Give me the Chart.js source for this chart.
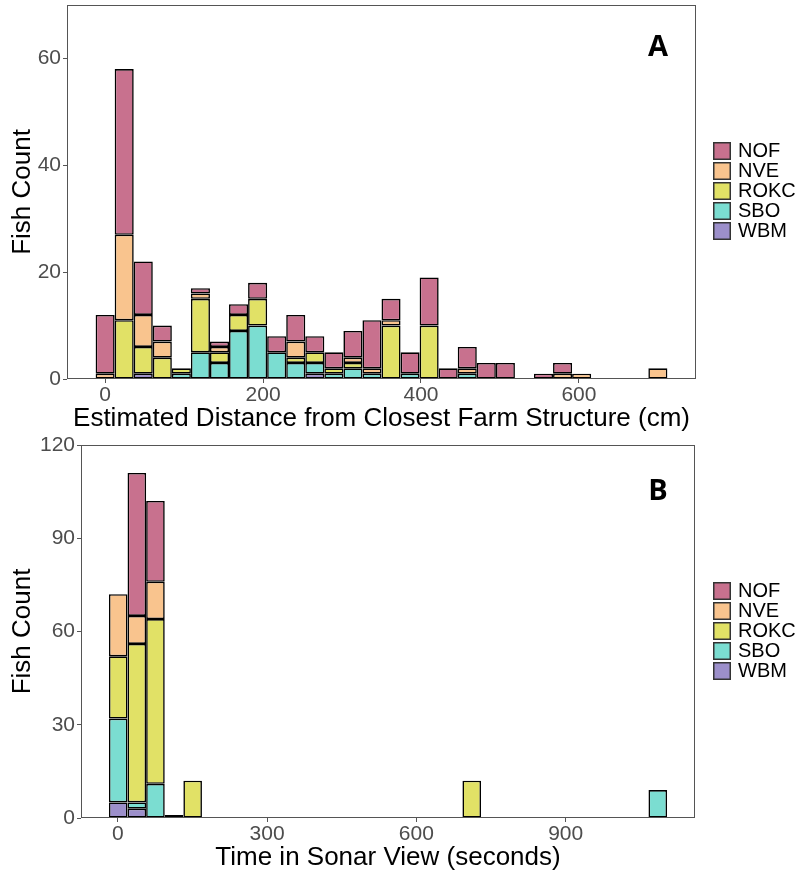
<!DOCTYPE html>
<html>
<head>
<meta charset="utf-8">
<script src="https://cdn.jsdelivr.net/npm/chart.js@4.4.1/dist/chart.umd.min.js"></script>
<style>
html,body{margin:0;padding:0;background:#ffffff;}
#wrap{position:relative;width:801px;height:873px;overflow:hidden;background:#ffffff;}
canvas{position:absolute;left:0;}
</style>
</head>
<body>
<div id="wrap">
<canvas id="chartA" width="801" height="449" style="top:0px;width:801px;height:449px;"></canvas>
<canvas id="chartB" width="801" height="437" style="top:436px;width:801px;height:437px;"></canvas>
</div>
<script>
// ---------- species ----------
const speciesNames  = ['NOF', 'NVE', 'ROKC', 'SBO', 'WBM'];
const speciesColors = ['#C8718E', '#F9C48E', '#E1E166', '#7BDDD1', '#9C8FCA'];

// ---------- Panel A: distance from closest farm structure (cm), bin centres ----------
const distanceBins = [0, 24.14, 48.28, 72.41, 96.55, 120.69, 144.83, 168.97, 193.10, 217.24,
  241.38, 265.52, 289.66, 313.79, 337.93, 362.07, 386.21, 410.34, 434.48, 458.62,
  482.76, 506.90, 531.03, 555.17, 579.31, 603.45, 627.59, 651.72, 675.86, 700];
const distNOF  = [11, 31, 10, 3, 0, 1, 1, 2, 3, 3, 5, 3, 3, 5, 9, 4, 4, 9, 2, 4, 3, 3, 0, 1, 2, 0, 0, 0, 0, 0];
const distNVE  = [1, 16, 6, 3, 0, 1, 1, 0, 0, 0, 3, 0, 0, 1, 1, 1, 0, 0, 0, 1, 0, 0, 0, 0, 1, 1, 0, 0, 0, 2];
const distROKC = [0, 11, 5, 4, 1, 10, 2, 3, 5, 0, 1, 2, 1, 1, 0, 10, 0, 10, 0, 0, 0, 0, 0, 0, 0, 0, 0, 0, 0, 0];
const distSBO  = [0, 0, 0, 0, 1, 5, 3, 9, 10, 5, 3, 2, 1, 2, 1, 0, 1, 0, 0, 1, 0, 0, 0, 0, 0, 0, 0, 0, 0, 0];
const distWBM  = [0, 0, 1, 0, 0, 0, 0, 0, 0, 0, 0, 1, 0, 0, 0, 0, 0, 0, 0, 0, 0, 0, 0, 0, 0, 0, 0, 0, 0, 0];
const distXTicks = [0, 200, 400, 600];
const distYTicks = [0, 20, 40, 60];

// ---------- Panel B: time in sonar view (s), bin centres ----------
const timeBins = [1, 38.38, 75.76, 113.14, 150.52, 187.90, 225.28, 262.66, 300.03, 337.41,
  374.79, 412.17, 449.55, 486.93, 524.31, 561.69, 599.07, 636.45, 673.83, 711.21,
  748.59, 785.97, 823.34, 860.72, 898.10, 935.48, 972.86, 1010.24, 1047.62, 1085];
const timeNOF  = [0, 46, 26, 1, 0, 0, 0, 0, 0, 0, 0, 0, 0, 0, 0, 0, 0, 0, 0, 0, 0, 0, 0, 0, 0, 0, 0, 0, 0, 0];
const timeNVE  = [20, 9, 12, 0, 0, 0, 0, 0, 0, 0, 0, 0, 0, 0, 0, 0, 0, 0, 0, 0, 0, 0, 0, 0, 0, 0, 0, 0, 0, 0];
const timeROKC = [20, 51, 53, 0, 12, 0, 0, 0, 0, 0, 0, 0, 0, 0, 0, 0, 0, 0, 0, 12, 0, 0, 0, 0, 0, 0, 0, 0, 0, 0];
const timeSBO  = [27, 2, 11, 0, 0, 0, 0, 0, 0, 0, 0, 0, 0, 0, 0, 0, 0, 0, 0, 0, 0, 0, 0, 0, 0, 0, 0, 0, 0, 9];
const timeWBM  = [5, 3, 0, 0, 0, 0, 0, 0, 0, 0, 0, 0, 0, 0, 0, 0, 0, 0, 0, 0, 0, 0, 0, 0, 0, 0, 0, 0, 0, 0];
const timeXTicks = [0, 300, 600, 900];
const timeYTicks = [0, 30, 60, 90, 120];

const FONT = '"Liberation Sans", Arial, sans-serif';

function buildDatasets(bins, seriesList) {
  // stacked bottom-up: WBM, SBO, ROKC, NVE, NOF
  const out = [];
  for (let s = speciesNames.length - 1; s >= 0; s--) {
    out.push({
      label: speciesNames[s],
      data: bins.map((x, i) => ({ x: x, y: seriesList[s][i] === 0 ? null : seriesList[s][i] })),
      backgroundColor: speciesColors[s],
      borderColor: '#000000',
      borderWidth: 1.6,
      borderSkipped: false,
      inflateAmount: 0,
      barPercentage: 1,
      categoryPercentage: 1
    });
  }
  return out;
}

const decoPlugin = {
  id: 'deco',
  afterDraw(chart, args, opts) {
    const ctx = chart.ctx;
    const a = chart.chartArea;
    ctx.save();
    // panel border
    ctx.strokeStyle = '#555555';
    ctx.lineWidth = 1;
    ctx.strokeRect(Math.round(a.left) + 0.5, Math.round(a.top) + 0.5,
      Math.round(a.right - a.left) - 1, Math.round(a.bottom - a.top) - 1);
    // legend
    ctx.font = '20px ' + FONT;
    ctx.textBaseline = 'middle';
    ctx.textAlign = 'left';
    speciesNames.forEach((name, i) => {
      const top = opts.legendTop + i * 20;
      ctx.fillStyle = speciesColors[i];
      ctx.fillRect(opts.legendX, top, 18, 18);
      ctx.strokeStyle = '#333333';
      ctx.lineWidth = 1.5;
      ctx.strokeRect(opts.legendX + 0.75, top + 0.75, 16.5, 16.5);
      ctx.fillStyle = '#000000';
      ctx.fillText(name, opts.legendX + 25, top + 9.5);
    });
    // panel letter
    ctx.font = 'bold 29px "Open Sans", "DejaVu Sans", sans-serif';
    ctx.textAlign = 'center';
    ctx.fillStyle = '#000000';
    ctx.fillText(opts.letter, opts.letterX, opts.letterY);
    ctx.restore();
  }
};

function makeChart(id, cfg) {
  return new Chart(document.getElementById(id), {
    type: 'bar',
    data: { datasets: buildDatasets(cfg.bins, cfg.series) },
    options: {
      responsive: false,
      animation: false,
      devicePixelRatio: 1,
      layout: { padding: { top: cfg.padTop, right: cfg.padRight, left: 0, bottom: 0 } },
      plugins: {
        legend: { display: false },
        tooltip: { enabled: false },
        deco: { legendX: 713, legendTop: cfg.legendTop, letter: cfg.letter, letterX: 658, letterY: cfg.letterY }
      },
      scales: {
        x: {
          type: 'linear',
          stacked: true,
          offset: false,
          min: cfg.xMin,
          max: cfg.xMax,
          afterBuildTicks: s => { s.ticks = cfg.xTicks.map(v => ({ value: v })); },
          afterFit: s => { s.height = cfg.xHeight; s.paddingLeft = 0; s.paddingRight = 0; },
          grid: { offset: false, drawOnChartArea: false, drawTicks: true, tickLength: 4, color: '#555555', lineWidth: 1 },
          border: { display: false },
          ticks: { font: { family: FONT, size: 21, lineHeight: 1 }, color: '#4d4d4d', padding: cfg.xTickPad, maxRotation: 0, autoSkip: false },
          title: { display: true, text: cfg.xTitle, color: '#000000', font: { family: FONT, size: 26, lineHeight: 1 }, padding: { top: 0, bottom: cfg.xTitlePad } }
        },
        y: {
          stacked: true,
          min: 0,
          max: cfg.yMax,
          afterBuildTicks: s => { s.ticks = cfg.yTicks.map(v => ({ value: v })); },
          afterFit: s => { s.width = cfg.yWidth; s.paddingTop = 0; s.paddingBottom = 0; },
          grid: { drawOnChartArea: false, drawTicks: true, tickLength: 4, color: '#555555', lineWidth: 1 },
          border: { display: false },
          ticks: { font: { family: FONT, size: 21, lineHeight: 1 }, color: '#4d4d4d', padding: 2 },
          title: { display: true, text: 'Fish Count', color: '#000000', font: { family: FONT, size: 26, lineHeight: 1 }, padding: { top: 10.3, bottom: 0 } }
        }
      }
    },
    plugins: [decoPlugin]
  });
}

makeChart('chartA', {
  bins: distanceBins,
  series: [distNOF, distNVE, distROKC, distSBO, distWBM],
  xMin: -48.3, xMax: 748.3, yMax: 70,
  xTicks: distXTicks, yTicks: distYTicks,
  padTop: 5, padRight: 105, yWidth: 67, xHeight: 70,
  xTickPad: 1.5, xTitlePad: 17.5,
  xTitle: 'Estimated Distance from Closest Farm Structure (cm)',
  legendTop: 142, letter: 'A', letterY: 48
});

makeChart('chartB', {
  bins: timeBins,
  series: [timeNOF, timeNVE, timeROKC, timeSBO, timeWBM],
  xMin: -73.8, xMax: 1159.8, yMax: 120,
  xTicks: timeXTicks, yTicks: timeYTicks,
  padTop: 9, padRight: 106, yWidth: 81, xHeight: 55,
  xTickPad: 2, xTitlePad: 2,
  xTitle: 'Time in Sonar View (seconds)',
  legendTop: 146, letter: 'B', letterY: 56
});
</script>
</body>
</html>
